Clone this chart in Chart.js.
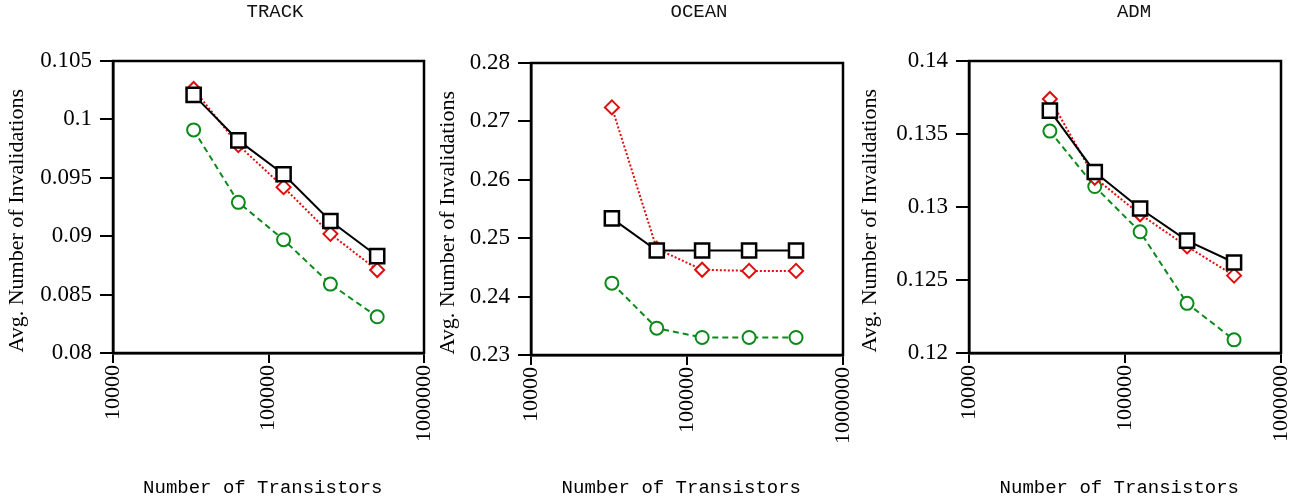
<!DOCTYPE html>
<html>
<head>
<meta charset="utf-8">
<script src="https://cdn.jsdelivr.net/npm/chart.js@4.4.0/dist/chart.umd.min.js"></script>
<style>
body{margin:0;background:#fff;width:1294px;height:503px;position:relative;overflow:hidden}
.panel{position:absolute;top:0}
.title{position:absolute;top:0;font-family:"Liberation Mono",monospace;font-size:19px;line-height:25px;transform:translateX(-50%);color:#111;white-space:nowrap}
</style>
</head>
<body>
<div class="panel" style="left:0px"><canvas id="c0" width="440" height="503"></canvas></div>
<div class="panel" style="left:430px"><canvas id="c1" width="430" height="503"></canvas></div>
<div class="panel" style="left:852px"><canvas id="c2" width="442" height="503"></canvas></div>
<div class="title" style="left:275px">TRACK</div>
<div class="title" style="left:699px">OCEAN</div>
<div class="title" style="left:1134px">ADM</div>
<script>
// x positions (number of transistors), same for all panels
const transistors = [33000, 64000, 125000, 250000, 500000];
const xTicks = [10000, 100000, 1000000];

// TRACK
const trackBlack = [0.1021, 0.0982, 0.0953, 0.0913, 0.0883];
const trackRed   = [0.1026, 0.0978, 0.0942, 0.0902, 0.0871];
const trackGreen = [0.0991, 0.0929, 0.0897, 0.0859, 0.0831];
const trackTicks = [0.08, 0.085, 0.09, 0.095, 0.1, 0.105];

// OCEAN
const oceanBlack = [0.2534, 0.2479, 0.2479, 0.2479, 0.2479];
const oceanRed   = [0.2724, 0.2482, 0.2446, 0.2444, 0.2444];
const oceanGreen = [0.2423, 0.2346, 0.2330, 0.2330, 0.2330];
const oceanTicks = [0.23, 0.24, 0.25, 0.26, 0.27, 0.28];

// ADM
const admBlack = [0.1366, 0.1324, 0.1299, 0.1277, 0.1262];
const admRed   = [0.1374, 0.1320, 0.1295, 0.1273, 0.1253];
const admGreen = [0.1352, 0.1314, 0.1283, 0.1234, 0.1209];
const admTicks = [0.12, 0.125, 0.13, 0.135, 0.14];

const serif = '"Liberation Serif", "Times New Roman", serif';
const mono = '"Liberation Mono", "Courier New", monospace';

// box round the plot area
const frame = {
    id: "frame",
    afterDraw(chart) {
        const a = chart.chartArea;
        const c = chart.ctx;
        c.save();
        c.strokeStyle = "#000";
        c.lineWidth = 2.5;
        c.strokeRect(a.left, a.top, a.right - a.left, a.bottom - a.top);
        c.restore();
    }
};

function pts(ys) {
    return transistors.map((x, i) => ({ x: x, y: ys[i] }));
}

function makeChart(id, black, red, green, yTicks, lay) {
    return new Chart(document.getElementById(id), {
        type: "line",
        data: {
            datasets: [
            {
                data: pts(black),
                borderColor: "#000",
                borderWidth: 2,
                pointStyle: "rect",
                pointRadius: 10,
                pointBorderWidth: 2.5,
                pointBorderColor: "#000",
                pointBackgroundColor: "#fff"
            },
            {
                data: pts(red),
                borderColor: "#e00d0d",
                borderWidth: 2,
                borderDash: [2, 2],
                pointStyle: "rectRot",
                pointRadius: 7,
                pointBorderWidth: 2,
                pointBorderColor: "#e00d0d",
                pointBackgroundColor: "#fff"
            },
            {
                data: pts(green),
                borderColor: "#0b8a1a",
                borderWidth: 2,
                borderDash: [6, 4],
                pointStyle: "circle",
                pointRadius: 6.5,
                pointBorderWidth: 2,
                pointBorderColor: "#0b8a1a",
                pointBackgroundColor: "#fff"
            }]
        },
        options: {
            responsive: false,
            animation: false,
            layout: { padding: { left: 0, right: lay.right, top: lay.top, bottom: 0 } },
            plugins: { legend: { display: false }, tooltip: { enabled: false } },
            scales: {
                x: {
                    type: "logarithmic",
                    min: 10000,
                    max: 1000000,
                    afterBuildTicks: s => { s.ticks = xTicks.map(v => ({ value: v })); },
                    afterFit: s => {
                        s.height = lay.xHeight;
                        // rotated labels are narrow, no need to pull the plot in
                        s.paddingLeft = 0;
                        s.paddingRight = 0;
                    },
                    ticks: {
                        autoSkip: false,
                        minRotation: 90,
                        maxRotation: 90,
                        padding: 2,
                        color: "#000",
                        font: { family: serif, size: 22 },
                        callback: v => String(v)
                    },
                    grid: { drawOnChartArea: false, color: "#000", lineWidth: 2, tickLength: 10 },
                    border: { color: "#000", width: 2.5 },
                    title: {
                        display: true,
                        text: "Number of Transistors ",
                        color: "#000",
                        font: { family: mono, size: 19 },
                        padding: { top: 0, bottom: 4 }
                    }
                },
                y: {
                    min: yTicks[0],
                    max: yTicks[yTicks.length - 1],
                    afterBuildTicks: s => { s.ticks = yTicks.map(v => ({ value: v })); },
                    afterFit: s => { s.width = lay.yWidth; },
                    ticks: {
                        padding: 8,
                        color: "#000",
                        font: { family: serif, size: 23 },
                        callback: v => String(v)
                    },
                    grid: { drawOnChartArea: false, color: "#000", lineWidth: 2, tickLength: 13 },
                    border: { color: "#000", width: 2.5 },
                    title: {
                        display: true,
                        text: "Avg. Number of Invalidations     ",
                        color: "#000",
                        font: { family: serif, size: 22 },
                        padding: { top: lay.titlePad, bottom: 0 }
                    }
                }
            }
        },
        plugins: [frame]
    });
}

makeChart("c0", trackBlack, trackRed, trackGreen, trackTicks, { yWidth: 113, right: 16, top: 61, xHeight: 150, titlePad: 4 });
makeChart("c1", oceanBlack, oceanRed, oceanGreen, oceanTicks, { yWidth: 101, right: 17, top: 63, xHeight: 148, titlePad: 5 });
makeChart("c2", admBlack, admRed, admGreen, admTicks, { yWidth: 117, right: 13, top: 61, xHeight: 150, titlePad: 5 });
</script>
</body>
</html>
